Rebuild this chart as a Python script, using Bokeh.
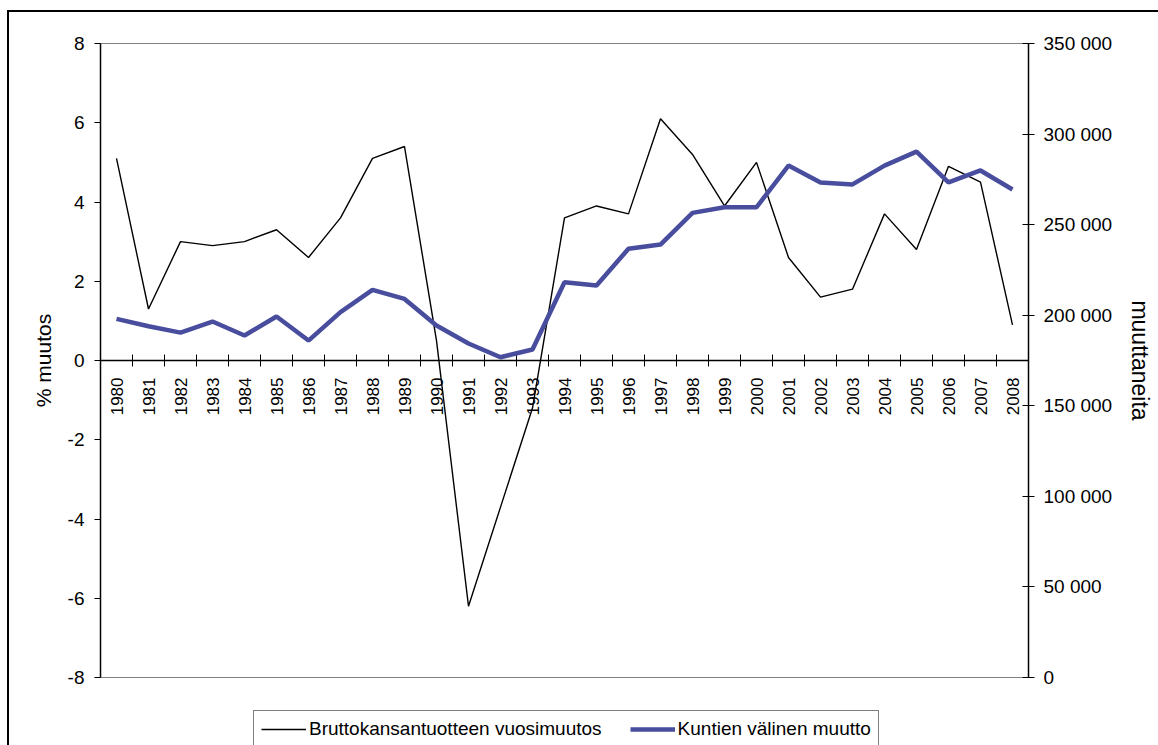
import math
from bokeh.plotting import figure
from bokeh.layouts import column
from bokeh.models import (Range1d, LinearAxis, FixedTicker, Span, Legend, LegendItem,
                          ColumnDataSource)
from bokeh.core.properties import value
from bokeh.embed import file_html
from bokeh.resources import INLINE

# ---- data ----
years = [str(y) for y in range(1980, 2009)]
gdp_change = [5.1, 1.3, 3.0, 2.9, 3.0, 3.3, 2.6, 3.6, 5.1, 5.4,
              0.5, -6.2, -3.7, -1.2, 3.6, 3.9, 3.7, 6.1, 5.2, 3.9,
              5.0, 2.6, 1.6, 1.8, 3.7, 2.8, 4.9, 4.5, 0.9]
migration = [198000, 193900, 190400, 196500, 188800, 199300, 186000, 201700, 214000, 209000,
             194300, 184400, 176800, 181100, 218200, 216400, 236700, 239000, 256500, 259600,
             259600, 282600, 273300, 272200, 282600, 290300, 273300, 279900, 269400]
left_ticks = [-8, -6, -4, -2, 0, 2, 4, 6, 8]
right_ticks = [0, 50000, 100000, 150000, 200000, 250000, 300000, 350000]
series_names = ["Bruttokansantuotteen vuosimuutos", "Kuntien välinen muutto"]
left_title = "% muutos"
right_title = "muuttaneita"

FONT = "Liberation Sans"
BLUE = "#484d9e"
BLACK_W = 1.4
BLUE_W = 4.5

n = len(years)
centers = [i + 0.5 for i in range(n)]
src = ColumnDataSource(dict(x=centers, year=years, gdp=gdp_change, mig=migration))

p = figure(width=1149, height=698, x_range=Range1d(0, n), y_range=Range1d(-8, 8),
           output_backend="svg", toolbar_location=None, x_axis_location=None,
           y_axis_location="left")
p.min_border_left = 91
p.min_border_right = 130
p.min_border_top = 31
p.min_border_bottom = 33
p.background_fill_color = "white"
p.border_fill_color = "white"
p.outline_line_color = "#808080"
p.outline_line_width = 1
for g in p.grid:
    g.visible = False

p.extra_y_ranges = {"mig": Range1d(0, 350000)}

# left axis
ya = p.yaxis[0]
ya.ticker = FixedTicker(ticks=left_ticks)
ya.major_label_overrides = {t: str(t) for t in left_ticks}
ya.minor_tick_line_color = None
ya.major_tick_in = 0
ya.major_tick_out = 6
ya.major_tick_line_color = "black"
ya.axis_line_color = "black"
ya.axis_line_width = 1.5
ya.major_label_standoff = 10
ya.major_label_text_font = FONT
ya.major_label_text_font_size = "19px"
ya.major_label_text_color = "black"
ya.axis_label = left_title
ya.axis_label_text_font = FONT
ya.axis_label_text_font_size = "21px"
ya.axis_label_text_font_style = "normal"
ya.axis_label_text_color = "black"
ya.axis_label_standoff = 10

# right axis
ra = LinearAxis(y_range_name="mig", ticker=FixedTicker(ticks=right_ticks))
ra.major_label_overrides = {t: f"{t:,}".replace(",", " ") for t in right_ticks}
ra.minor_tick_line_color = None
ra.major_tick_in = 6
ra.major_tick_out = 6
ra.major_tick_line_color = "black"
ra.axis_line_color = "black"
ra.axis_line_width = 1.5
ra.major_label_standoff = 9
ra.major_label_text_font = FONT
ra.major_label_text_font_size = "19px"
ra.major_label_text_color = "black"
ra.axis_label = right_title
ra.axis_label_text_font = FONT
ra.axis_label_text_font_size = "23px"
ra.axis_label_text_font_style = "normal"
ra.axis_label_text_color = "black"
ra.axis_label_standoff = 12
p.add_layout(ra, "right")

# category axis drawn at zero
p.add_layout(Span(location=0, dimension="width", line_color="black", line_width=1.5))
bounds = [float(i) for i in range(1, n)]
p.segment(x0=bounds, y0=[-0.15] * len(bounds), x1=bounds, y1=[0.15] * len(bounds),
          line_color="black", line_width=1)
p.text(x="x", y=0, text="year", source=src, angle=math.pi / 2,
       text_align="right", text_baseline="middle", y_offset=17,
       text_font=value(FONT), text_font_size="17px", text_color="black")

# series
p.line("x", "gdp", source=src, line_color="black", line_width=BLACK_W)
p.line("x", "mig", source=src, y_range_name="mig", line_color=BLUE, line_width=BLUE_W)

# legend strip below the chart (proxy lines lie outside its visible range)
q = figure(width=1149, height=35, x_range=Range1d(0, 1), y_range=Range1d(0, 1),
           output_backend="svg", toolbar_location=None,
           x_axis_location=None, y_axis_location=None)
q.min_border_left = 0
q.min_border_right = 0
q.min_border_top = 0
q.min_border_bottom = 0
q.outline_line_color = None
q.background_fill_color = "white"
q.border_fill_color = "white"
for g in q.grid:
    g.visible = False
e1 = q.line(x=[5, 6], y=[5, 5], line_color="black", line_width=BLACK_W)
e2 = q.line(x=[5, 6], y=[5, 5], line_color=BLUE, line_width=BLUE_W)

legend = Legend(items=[LegendItem(label=series_names[0], renderers=[e1]),
                       LegendItem(label=series_names[1], renderers=[e2])],
                orientation="horizontal", location=(153, -3))
legend.glyph_width = 45
legend.glyph_height = 20
legend.label_standoff = 3
legend.padding = 7
legend.spacing = 28
legend.margin = 0
legend.border_line_color = "black"
legend.border_line_width = 1
legend.background_fill_color = "white"
legend.background_fill_alpha = 1
legend.label_text_font = FONT
legend.label_text_font_size = "19px"
legend.label_text_color = "black"
q.add_layout(legend)

layout = column(p, q, spacing=0)
layout.styles = {"margin-left": "7px", "margin-top": "10px",
                 "border-top": "2px solid black", "border-left": "2px solid black"}

open("out.html", "w").write(file_html(layout, INLINE))
